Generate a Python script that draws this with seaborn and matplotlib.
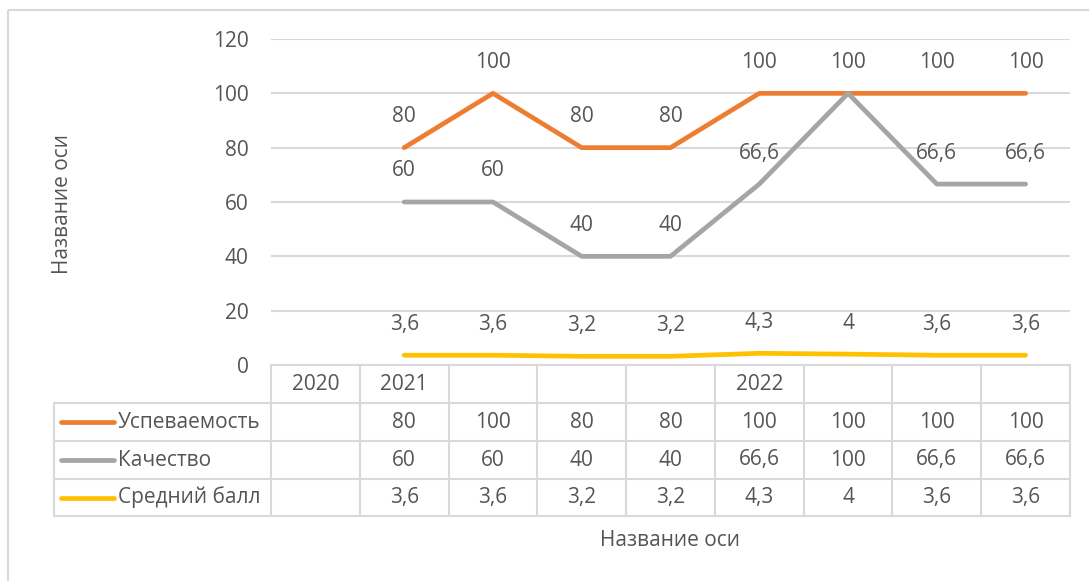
import numpy as np
import pandas as pd
import matplotlib
matplotlib.use("Agg")
import matplotlib.pyplot as plt
import seaborn as sns
from matplotlib.patches import Rectangle
from matplotlib.lines import Line2D

# Data
categories = ["2020", "2021", "", "", "", "2022", "", "", ""]
series_names = ["Успеваемость", "Качество", "Средний балл"]
uspevaemost = [np.nan, 80, 100, 80, 80, 100, 100, 100, 100]
kachestvo = [np.nan, 60, 60, 40, 40, 66.6, 100, 66.6, 66.6]
sredniy_ball = [np.nan, 3.6, 3.6, 3.2, 3.2, 4.3, 4, 3.6, 3.6]
y_ticks = [0, 20, 40, 60, 80, 100, 120]
axis_title = "Название оси"

colors = ["#ED7D31", "#A5A5A5", "#FFC000"]
text_color = "#555555"
grid_color = "#D9D9D9"

sns.set_theme(style="white")
plt.rcParams["font.family"] = ["Open Sans", "DejaVu Sans"]
FS = 15


def fmt(v):
    if np.isnan(v):
        return ""
    if float(v).is_integer():
        return str(int(v))
    return f"{v:.1f}".replace(".", ",")


values = [uspevaemost, kachestvo, sredniy_ball]
rows = []
for name, vals in zip(series_names, values):
    for i, v in enumerate(vals):
        rows.append({"pos": i, "value": v, "series": name})
df = pd.DataFrame(rows)

W, H = 1089, 581
fig = plt.figure(figsize=(W / 100, H / 100), dpi=100)

# layout in pixels
x_left, x_right = 271, 1070
y_top, y_zero = 39, 365
ax = fig.add_axes([x_left / W, 1 - y_zero / H, (x_right - x_left) / W, (y_zero - y_top) / H])

sns.lineplot(
    data=df, x="pos", y="value", hue="series", palette=colors,
    hue_order=series_names, estimator=None, sort=False, ax=ax,
    linewidth=3.4, legend=False,
)
for line in ax.get_lines():
    line.set_solid_capstyle("round")
    line.set_solid_joinstyle("round")

ax.set_xlim(-0.5, len(categories) - 0.5)
ax.set_ylim(0, 120)
ax.set_yticks(y_ticks)
ax.set_yticklabels([str(t) for t in y_ticks], color=text_color, fontsize=FS)
ax.tick_params(axis="y", length=0, pad=16)
ax.set_xticks([])
ax.set_xlabel("")
ax.set_ylabel("")
for s in ax.spines.values():
    s.set_visible(False)
ax.grid(False)
for t in y_ticks:
    ax.axhline(t, color=grid_color, lw=1.5, zorder=0)

# data labels (skip exact overlaps so text is not drawn twice)
placed = set()
for vals in values:
    for i, v in enumerate(vals):
        if np.isnan(v) or (i, v) in placed:
            continue
        placed.add((i, v))
        ax.annotate(fmt(v), (i, v), xytext=(0, 31), textcoords="offset pixels",
                    ha="center", va="center", fontsize=FS, color=text_color)

# data table in pixel coordinates
ov = fig.add_axes([0, 0, 1, 1], facecolor="none")
ov.set_xlim(0, W)
ov.set_ylim(H, 0)
ov.axis("off")

n = len(categories)
col_w = (x_right - x_left) / n
row_y = [365, 403, 441, 479, 516]
tbl_left = 54
lw_t = 1.5

ov.plot([x_left, x_right], [row_y[0]] * 2, color=grid_color, lw=lw_t)
for y in row_y[1:]:
    ov.plot([tbl_left, x_right], [y, y], color=grid_color, lw=lw_t)
for k in range(n + 1):
    x = x_left + k * col_w
    ov.plot([x, x], [row_y[0], row_y[-1]], color=grid_color, lw=lw_t)
ov.plot([tbl_left, tbl_left], [row_y[1], row_y[-1]], color=grid_color, lw=lw_t)

for k, c in enumerate(categories):
    ov.text(x_left + (k + 0.5) * col_w, (row_y[0] + row_y[1]) / 2 + 1, c,
            ha="center", va="center", fontsize=FS, color=text_color)

for r, (name, vals, col) in enumerate(zip(series_names, values, colors)):
    yc = (row_y[r + 1] + row_y[r + 2]) / 2
    ov.add_line(Line2D([61, 114], [yc, yc], color=col, lw=3.4, solid_capstyle="round"))
    ov.text(118, yc, name, ha="left", va="center", fontsize=FS, color=text_color)
    for k, v in enumerate(vals):
        ov.text(x_left + (k + 0.5) * col_w, yc, fmt(v), ha="center", va="center",
                fontsize=FS, color=text_color)

# axis titles
ov.text(62, 204, axis_title, rotation=90, ha="center", va="center",
        fontsize=FS, color=text_color)
ov.text(670, 540, axis_title, ha="center", va="center", fontsize=FS, color=text_color)

# chart border
ov.add_patch(Rectangle((8, 10), 1200, 700, fill=False, edgecolor=grid_color, lw=1.5))

fig.savefig("out.png", dpi=100)
